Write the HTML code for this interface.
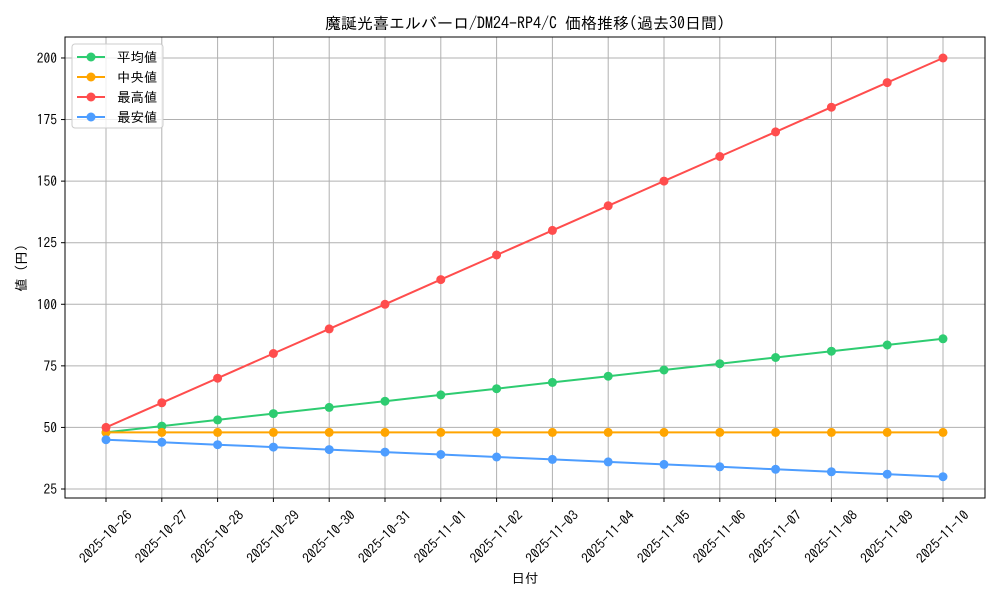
<!DOCTYPE html>
<html><head><meta charset="utf-8"><style>
html,body{margin:0;padding:0;background:#fff;}
svg{display:block;font-family:"IPAGothic","Liberation Sans","Noto Sans CJK JP",sans-serif;}
</style></head><body>
<svg id="s" width="1000" height="600" xmlns="http://www.w3.org/2000/svg"></svg>
<script>
const s=document.getElementById('s');
let h='';
const L=65,R=985,T=37,B=498;
const X=i=>106+i*55.8, Y=v=>489-(v-25)*2.463;
h+=`<text x="525" y="29" font-size="16" text-anchor="middle">魔誕光喜エルバーロ/DM24-RP4/C 価格推移(過去30日間)</text>`;
for(let i=0;i<16;i++){const x=X(i);h+=`<line x1="${x}" y1="${T}" x2="${x}" y2="${B}" stroke="#b0b0b0" stroke-width="1"/>`;
h+=`<line x1="${x}" y1="${B}" x2="${x}" y2="${B+4}" stroke="#000"/>`;
const d=new Date(Date.UTC(2025,9,26+i));const lab=d.toISOString().slice(0,10);
h+=`<text transform="translate(${x+3},${B+42}) rotate(-45)" font-size="13.5" text-anchor="middle">${lab}</text>`;}
for(let v=25;v<=200;v+=25){const y=Y(v);h+=`<line x1="${L}" y1="${y}" x2="${R}" y2="${y}" stroke="#b0b0b0"/>`;
h+=`<line x1="${L-4}" y1="${y}" x2="${L}" y2="${y}" stroke="#000"/>`;
h+=`<text x="${L-8}" y="${y+5}" font-size="13.5" text-anchor="end">${v}</text>`;}
h+=`<rect x="${L}" y="${T}" width="${R-L}" height="${B-T}" fill="none" stroke="#000"/>`;
const ser=[
['#2ecc71',i=>48+i*38/15],
['#ffa500',i=>48],
['#ff4d4d',i=>50+i*10],
['#4d9dff',i=>45-i]];
for(const [c,f] of ser){let p=[];for(let i=0;i<16;i++)p.push(X(i).toFixed(1)+','+Y(f(i)).toFixed(1));
h+=`<polyline points="${p.join(' ')}" fill="none" stroke="${c}" stroke-width="2"/>`;
for(const q of p){const [a,b]=q.split(',');h+=`<circle cx="${a}" cy="${b}" r="4.5" fill="${c}"/>`;}}
h+=`<text x="525" y="583" font-size="13.5" text-anchor="middle">日付</text>`;
h+=`<text transform="translate(26,268) rotate(-90)" font-size="13.5" text-anchor="middle">値 (円)</text>`;
h+=`<rect x="72" y="44" width="91" height="84" rx="3" fill="#fff" fill-opacity="0.8" stroke="#ccc"/>`;
const names=['平均値','中央値','最高値','最安値'];
names.forEach((n,k)=>{const y=57+k*20;const c=ser[k][0];
h+=`<line x1="77" y1="${y}" x2="105" y2="${y}" stroke="${c}" stroke-width="2"/><circle cx="91" cy="${y}" r="4.5" fill="${c}"/>`;
h+=`<text x="117" y="${y+5}" font-size="13.5">${n}</text>`;});
s.innerHTML=h;
</script>
</body></html>
